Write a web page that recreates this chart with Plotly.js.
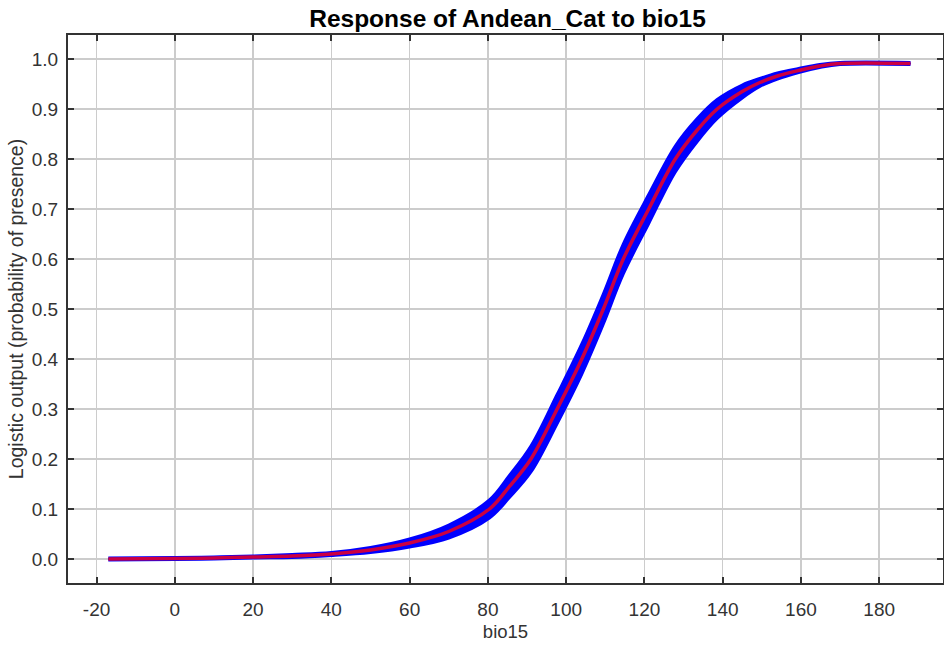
<!DOCTYPE html>
<html>
<head>
<meta charset="utf-8">
<script src="https://cdn.plot.ly/plotly-3.0.1.min.js"></script>
<style>html,body{margin:0;padding:0;background:#fff;}#chart{width:944px;height:649px;}</style>
</head>
<body>
<div id="chart"></div>
<script>
// Response curve
var bio15 = [-17, 0, 10, 20, 30, 40, 50, 60, 70, 80.4, 85.5, 91, 97.7, 104, 109.5, 114.6, 121.1, 127.9, 133.5, 138.6, 145, 149.5, 154, 159.4, 164.8, 170, 188];
var meanResponse = [0.000, 0.001, 0.002, 0.004, 0.006, 0.010, 0.018, 0.032, 0.055, 0.100, 0.145, 0.200, 0.300, 0.400, 0.500, 0.600, 0.700, 0.800, 0.858, 0.900, 0.935, 0.953, 0.966, 0.977, 0.986, 0.991, 0.991];
var sdResponse = [0.002, 0.002, 0.002, 0.002, 0.003, 0.003, 0.005, 0.008, 0.013, 0.018, 0.022, 0.026, 0.029, 0.030, 0.030, 0.030, 0.029, 0.026, 0.023, 0.019, 0.013, 0.008, 0.006, 0.004, 0.003, 0.002, 0.002];
var xTicks = [-20, 0, 20, 40, 60, 80, 100, 120, 140, 160, 180];
var yTicks = [0.0, 0.1, 0.2, 0.3, 0.4, 0.5, 0.6, 0.7, 0.8, 0.9, 1.0];

var upper = meanResponse.map(function (m, i) { return m + sdResponse[i]; });
var lower = meanResponse.map(function (m, i) { return m - sdResponse[i]; });

var traces = [
  {x: bio15, y: lower, mode: 'lines', line: {color: '#0000ff', width: 3, shape: 'spline', smoothing: 1}, hoverinfo: 'skip', showlegend: false},
  {x: bio15, y: upper, mode: 'lines', fill: 'tonexty', fillcolor: '#0000ff', line: {color: '#0000ff', width: 3, shape: 'spline', smoothing: 1}, hoverinfo: 'skip', showlegend: false},
  {x: bio15, y: meanResponse, mode: 'lines', line: {color: 'rgb(225,0,45)', width: 3.5, shape: 'spline', smoothing: 1}, opacity: 0.9, showlegend: false}
];

var fam = 'Liberation Sans, Arial, sans-serif';
var axisFont = {family: fam, size: 19, color: '#333'};
var layout = {
  width: 944, height: 649,
  margin: {l: 68, r: 1, t: 35, b: 66},
  paper_bgcolor: '#ffffff', plot_bgcolor: '#ffffff',
  title: {text: '<b>Response of Andean_Cat to bio15</b>', x: 0.5376, xanchor: 'center', y: 0.971, yanchor: 'middle',
          font: {family: fam, size: 24.5, color: '#000'}},
  xaxis: {
    range: [-27.3, 196.3], tickvals: xTicks, ticktext: xTicks.map(String),
    showgrid: true, gridcolor: '#cccccc', gridwidth: 1.5, zeroline: false,
    showline: true, linecolor: '#333', linewidth: 2, mirror: 'ticks',
    ticks: 'inside', ticklen: 6, tickwidth: 2, tickcolor: '#333',
    tickfont: axisFont, ticklabelstandoff: 8,
    title: {text: 'bio15', font: {family: fam, size: 18.5, color: '#333'}, standoff: 6}
  },
  yaxis: {
    range: [-0.048, 1.048], tickvals: yTicks, ticktext: yTicks.map(function (v) { return v.toFixed(1); }),
    showgrid: true, gridcolor: '#cccccc', gridwidth: 1.5, zeroline: false,
    showline: true, linecolor: '#333', linewidth: 2, mirror: 'ticks',
    ticks: 'inside', ticklen: 6, tickwidth: 2, tickcolor: '#333',
    tickfont: axisFont, ticklabelstandoff: 4,
    title: {text: 'Logistic output (probability of presence)', font: {family: fam, size: 19.5, color: '#333'}, standoff: 3}
  }
};

Plotly.newPlot('chart', traces, layout, {displayModeBar: false, staticPlot: true});
</script>
</body>
</html>
